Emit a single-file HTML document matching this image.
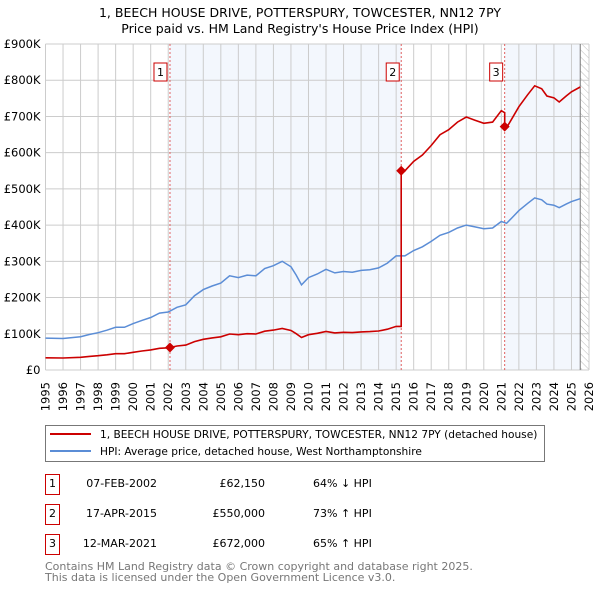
<!DOCTYPE html>
<html><head><meta charset="utf-8"><style>
body{margin:0;background:#fff;font-family:"DejaVu Sans","Liberation Sans",sans-serif;}
svg text{font-family:"DejaVu Sans","Liberation Sans",sans-serif;}
</style></head><body>
<svg id="c" width="600" height="590" viewBox="0 0 600 590">
<defs><pattern id="hatch" width="5" height="5" patternUnits="userSpaceOnUse" patternTransform="rotate(-45)"><line x1="0" y1="0" x2="0" y2="5" stroke="#bbb" stroke-width="1"/></pattern></defs>
<text x="300" y="17" text-anchor="middle" font-size="12.5">1, BEECH HOUSE DRIVE, POTTERSPURY, TOWCESTER, NN12 7PY</text>
<text x="300" y="33" text-anchor="middle" font-size="12.5">Price paid vs. HM Land Registry's House Price Index (HPI)</text>
<g id="plot"></g>
<rect x="45.5" y="425.5" width="499" height="36" fill="#fff" stroke="#777"/>
<line x1="50" y1="434" x2="91" y2="434" stroke="#cc0000" stroke-width="2"/>
<text x="100" y="438" font-size="10.6">1, BEECH HOUSE DRIVE, POTTERSPURY, TOWCESTER, NN12 7PY (detached house)</text>
<line x1="50" y1="451" x2="91" y2="451" stroke="#5b8dd6" stroke-width="2"/>
<text x="100" y="455" font-size="10.6">HPI: Average price, detached house, West Northamptonshire</text>
<g id="tbl" font-size="11"></g>
<text x="45" y="570" font-size="11" fill="#777">Contains HM Land Registry data © Crown copyright and database right 2025.</text>
<text x="45" y="581" font-size="11" fill="#777">This data is licensed under the Open Government Licence v3.0.</text>
</svg>
<script>
const hpiYears=[1995,1996,1997,1997.5,1998,1998.5,1999,1999.5,2000,2000.5,2001,2001.5,2002,2002.5,2003,2003.5,2004,2004.5,2005,2005.5,2006,2006.5,2007,2007.5,2008,2008.5,2009,2009.3,2009.6,2010,2010.5,2011,2011.5,2012,2012.5,2013,2013.5,2014,2014.5,2015,2015.5,2016,2016.5,2017,2017.5,2018,2018.5,2019,2019.5,2020,2020.5,2021,2021.3,2021.6,2022,2022.5,2022.9,2023.3,2023.6,2024,2024.3,2024.7,2025,2025.5];
const hpiValues=[88,87,92,98,103,110,118,118,128,137,145,157,160,173,180,205,222,232,240,260,255,262,260,280,288,300,285,262,235,255,265,278,268,272,270,275,277,282,295,315,315,330,340,355,372,380,392,400,395,390,392,410,405,420,440,460,475,470,458,455,448,458,465,473];
const saleYears=[2002.1,2015.29,2021.19];
const salePrices=[62150,550000,672000];
const saleLabels=["1","2","3"];
const saleDates=["07-FEB-2002","17-APR-2015","12-MAR-2021"];
const salePriceText=["£62,150","£550,000","£672,000"];
const saleHpiText=["64% ↓ HPI","73% ↑ HPI","65% ↑ HPI"];
const yTicks=[0,100,200,300,400,500,600,700,800,900];
const yTickLabels=["£0","£100K","£200K","£300K","£400K","£500K","£600K","£700K","£800K","£900K"];

const X0=45.5,X1=589,Y0=370,Y1=44,T0=1995,T1=2026,ENDDATA=2025.5;
const sx=t=>X0+(t-T0)/(T1-T0)*(X1-X0);
const sy=v=>Y0-v/900*(Y0-Y1);
const NS="http://www.w3.org/2000/svg";
const g=document.getElementById('plot');
function mk(tag,at,parent){const e=document.createElementNS(NS,tag);for(const k in at)e.setAttribute(k,at[k]);(parent||g).appendChild(e);return e;}
function hpiAt(t){for(let i=0;i<hpiYears.length-1;i++){if(t<=hpiYears[i+1]){const f=(t-hpiYears[i])/(hpiYears[i+1]-hpiYears[i]);return hpiValues[i]+f*(hpiValues[i+1]-hpiValues[i]);}}return hpiValues[hpiValues.length-1];}

let e;
e=mk('rect',{x:sx(saleYears[0]),y:Y1,width:sx(saleYears[1])-sx(saleYears[0]),height:Y0-Y1,fill:'#eef3fc',opacity:0.7});

e=mk('rect',{x:sx(saleYears[2]),y:Y1,width:sx(ENDDATA)-sx(saleYears[2]),height:Y0-Y1,fill:'#eef3fc',opacity:0.7});

e=mk('rect',{x:sx(ENDDATA),y:Y1,width:X1-sx(ENDDATA),height:Y0-Y1,fill:'url(#hatch)'});

for(let y=T0;y<=T1;y++){
 e=mk('line',{x1:sx(y),x2:sx(y),y1:Y1,y2:Y0,stroke:'#ccc','stroke-width':1});
 
 e=mk('text',{x:0,y:0,'text-anchor':'end','font-size':11.5,transform:`translate(${sx(y)+4},382) rotate(-90)`});e.textContent=y;
 
}
yTicks.forEach((v,i)=>{
 e=mk('line',{x1:X0,x2:X1,y1:sy(v),y2:sy(v),stroke:'#ccc','stroke-width':1});
 
 e=mk('text',{x:X0-5,y:sy(v)+4,'text-anchor':'end','font-size':11.5});e.textContent=yTickLabels[i];
 
});
e=mk('line',{x1:sx(ENDDATA),x2:sx(ENDDATA),y1:Y1,y2:Y0,stroke:'#777'});

saleYears.forEach((t,i)=>{
 e=mk('line',{x1:sx(t),x2:sx(t),y1:Y1,y2:Y0,stroke:'#e06060','stroke-dasharray':'2,2'});
 
 const bx=sx(t)-(i==0?10:9);
 e=mk('rect',{x:bx-6,y:63,width:13,height:18,fill:'#fff',stroke:'#cc0000'});
 
 e=mk('text',{x:bx+0.5,y:76,'text-anchor':'middle','font-size':11});e.textContent=saleLabels[i];
 
});
let d=hpiYears.map((t,i)=>(i?'L':'M')+sx(t).toFixed(1)+','+sy(hpiValues[i]).toFixed(1)).join('');
e=mk('path',{d:d,fill:'none',stroke:'#5b8dd6','stroke-width':1.5});

let pts=[];
hpiYears.forEach((t,i)=>{
 let k=0;for(let j=0;j<saleYears.length;j++)if(t>=saleYears[j])k=j;
 pts.push([t,hpiValues[i]*salePrices[k]/1000/hpiAt(saleYears[k])]);
});
saleYears.forEach((t,j)=>{ if(j>0)pts.push([t-0.001,hpiAt(t)*salePrices[j-1]/1000/hpiAt(saleYears[j-1])]); pts.push([t,salePrices[j]/1000]); });
pts.sort((a,b)=>a[0]-b[0]);
d=pts.map((p,i)=>(i?'L':'M')+sx(p[0]).toFixed(1)+','+sy(p[1]).toFixed(1)).join('');
e=mk('path',{d:d,fill:'none',stroke:'#cc0000','stroke-width':1.6});

saleYears.forEach((t,i)=>{
 const cx=sx(t),cy=sy(salePrices[i]/1000);
 e=mk('path',{d:`M${cx},${cy-5}L${cx+5},${cy}L${cx},${cy+5}L${cx-5},${cy}Z`,fill:'#cc0000'});
 
});
const tb=document.getElementById('tbl');
saleYears.forEach((t,i)=>{
 const y=483+i*30;
 e=mk('rect',{x:45.5,y:y-8.5,width:14,height:20,fill:'#fff',stroke:'#cc0000'},tb);
 
 e=mk('text',{x:52.5,y:y+4,'text-anchor':'middle'},tb);e.textContent=saleLabels[i];
 
 e=mk('text',{x:157,y:y+4,'text-anchor':'end'},tb);e.textContent=saleDates[i];
 
 e=mk('text',{x:265,y:y+4,'text-anchor':'end'},tb);e.textContent=salePriceText[i];
 
 e=mk('text',{x:313,y:y+4},tb);e.textContent=saleHpiText[i];
 
});
</script>
</body></html>
